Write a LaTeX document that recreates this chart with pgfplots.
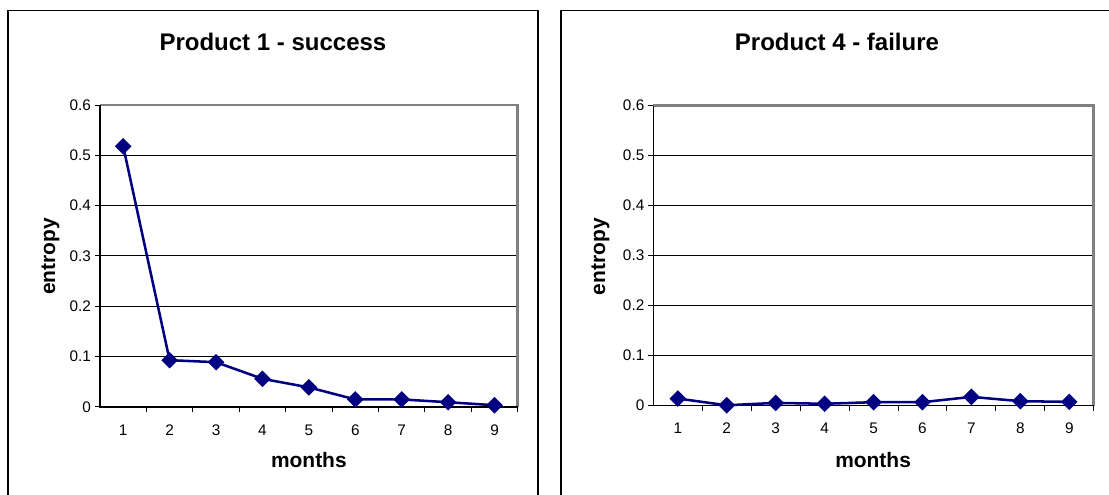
\documentclass[border=0pt]{standalone}
\usepackage{fontspec}
\setmainfont{Liberation Sans}
\usepackage{pgfplots}
\pgfplotsset{compat=1.18}
\definecolor{navy}{RGB}{0,0,128}
\definecolor{plotgray}{RGB}{128,128,128}

\pgfplotsset{
  entropyaxis/.style={
    scale only axis, clip=false,
    xmin=0.5, xmax=9.5, ymin=0, ymax=0.6,
    axis line style={draw=none},
    xtick pos=bottom, ytick pos=left,
    tick align=outside,
    major tick length=3.75pt,
    minor tick length=3.75pt,
    tick style={black, line width=0.75pt},
    xtick={1,2,3,4,5,6,7,8,9},
    major x tick style={draw=none},
    minor x tick num=1,
    ytick={0,0.1,0.2,0.3,0.4,0.5,0.6},
    ymajorgrids, major grid style={black, line width=0.75pt},
    tick label style={font=\fontsize{11.5}{13}\selectfont},
    xticklabel style={anchor=north, yshift=-6pt},
    yticklabel style={anchor=east, xshift=0.5pt},
    /pgf/number format/assume math mode=true,
    title style={font=\bfseries\fontsize{18}{21}\selectfont, anchor=base},
    xlabel style={font=\bfseries\fontsize{15.7}{18}\selectfont, anchor=base},
    ylabel style={font=\bfseries\fontsize{15.7}{18}\selectfont, anchor=base},
    xlabel={months}, ylabel={entropy},
  },
  entropyline/.style={navy, line width=1.9pt,
    mark=square*, mark size=3.45pt, mark options={rotate=45, solid, fill=navy}},
  plotframe/.style={
    % black left and bottom axis lines, grey border on top and right,
    % plus the tick closing the last category
    execute at begin axis={
      \draw[plotgray, line width=2pt] (rel axis cs:0,1) -- (rel axis cs:1,1) -- (rel axis cs:1,0);
      \draw[black, line width=0.75pt] (rel axis cs:1,0) -- ([yshift=-3.75pt]rel axis cs:1,0);
      \draw[black, line width=1pt] (rel axis cs:0,1) -- (rel axis cs:0,0) -- (rel axis cs:1,0);
    },
  },
}

\begin{document}
\begin{tikzpicture}
\useasboundingbox (0,0) rectangle (831.75pt,371.25pt);
\begin{scope}
  \clip (0,0) rectangle (831.75pt,371.25pt);
  \draw[black, line width=1pt] (6pt,-5pt) rectangle (403.5pt,363.5pt);
  \draw[black, line width=1pt] (420.75pt,-5pt) rectangle (850pt,363.5pt);
\end{scope}

% Product 1
\begin{axis}[entropyaxis, plotframe,
  at={(75pt,66pt)}, anchor=south west,
  width=313.3pt, height=226.5pt,
  title={Product 1 - success},
  title style={at={(0.414,1.155)}},
  xlabel style={at={(0.5,-0.199)}},
  ylabel style={at={(-0.1077,0.498)}},
]
\addplot[entropyline] coordinates {
  (1,0.518) (2,0.093) (3,0.089) (4,0.056) (5,0.039)
  (6,0.015) (7,0.015) (8,0.0095) (9,0.0035)
};
\end{axis}

% Product 4
\begin{axis}[entropyaxis, plotframe,
  at={(490pt,67.1pt)}, anchor=south west,
  width=330.3pt, height=225pt,
  title={Product 4 - failure},
  title style={at={(0.417,1.158)}},
  xlabel style={at={(0.499,-0.205)}},
  ylabel style={at={(-0.1097,0.496)}},
]
\addplot[entropyline] coordinates {
  (1,0.014) (2,0.0005) (3,0.0053) (4,0.0035) (5,0.0067)
  (6,0.0067) (7,0.0173) (8,0.0087) (9,0.0073)
};
\end{axis}
\end{tikzpicture}
\end{document}
